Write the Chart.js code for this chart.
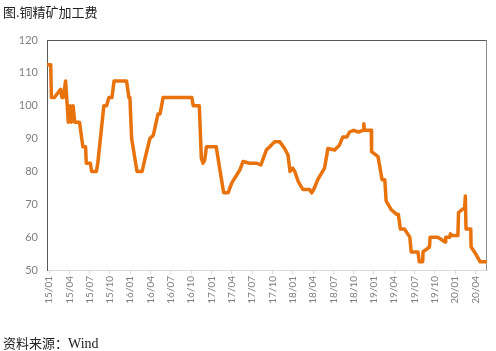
<!DOCTYPE html>
<html>
<head>
<meta charset="utf-8">
<script src="https://cdn.jsdelivr.net/npm/chart.js@4.4.1/dist/chart.umd.min.js"></script>
<style>
  body { margin: 0; background: #fff; }
  #wrap { position: relative; width: 496px; height: 351px; }
  #chart { position: absolute; left: 0; top: 0; }
  .txt { position: absolute; left: 3px; font-family: "Noto Sans CJK SC", sans-serif; font-size: 13px; color: #222; white-space: nowrap; }
  #title { top: 2px; }
  #source { top: 333px; }
  #source span { font-family: "Liberation Serif", serif; font-size: 14px; }
</style>
</head>
<body>
<div id="wrap">
  <canvas id="chart" width="496" height="351"></canvas>
  <div class="txt" id="title">图.铜精矿加工费</div>
  <div class="txt" id="source">资料来源：<span>Wind</span></div>
</div>
<script>
// x = months since 2015-01, y = TC (美元/吨)
const months = [-0.25, 0.25, 0.35, 0.8, 1.7, 1.9, 2.1, 2.45, 2.85, 3.1, 3.3, 3.55, 3.8, 4.5, 5.0, 5.4, 5.5, 6.1, 6.3, 7.0,
  7.2, 8.1, 8.5, 8.85, 9.3, 9.6, 11.45, 11.8, 11.95, 12.2, 13.0, 13.75, 14.3, 14.9, 15.4, 16.1, 16.4, 16.85, 21.1, 21.3,
  22.2, 22.5, 22.75, 23.0, 23.25, 24.7, 25.2, 25.8, 26.45, 27.0, 28.2, 28.65, 29.1, 29.6, 30.6, 31.3, 32.1, 32.6, 33.3, 34.1,
  34.8, 35.3, 35.6, 36.0, 36.3, 36.8, 37.5, 38.5, 38.8, 39.1, 39.7, 40.7, 41.2, 42.2, 42.9, 43.4, 44.0, 44.4, 45.0, 45.7,
  46.4, 46.5, 46.6, 47.6, 47.65, 48.6, 49.2, 49.6, 49.8, 50.5, 51.3, 51.6, 51.9, 52.5, 53.3, 53.5, 54.5, 54.7, 55.2, 55.25,
  56.2, 56.3, 57.4, 57.8, 58.5, 58.6, 59.2, 59.3, 59.5, 60.4, 60.5, 61.4, 61.5, 61.6, 62.3, 62.35, 63.0, 63.7, 64.7];
const tcValues = [112.5, 112.5, 102.5, 102.5, 105, 102.5, 102.5, 107.5, 95, 100, 95, 100, 95, 95, 87.5, 87.5, 82.5, 82.5, 80, 80,
  82.5, 100, 100, 102.5, 102.5, 107.5, 107.5, 102.5, 102.5, 90, 80, 80, 85, 90, 91, 97.5, 97.5, 102.5, 102.5, 100,
  100, 84, 82.5, 83.5, 87.5, 87.5, 81, 73.5, 73.5, 76.5, 80.5, 83, 82.8, 82.5, 82.5, 82, 86.5, 87.5, 89, 89,
  87, 85, 80, 81, 80, 77, 74.5, 74.5, 73.5, 74.5, 77.5, 81, 87, 86.5, 88, 90.5, 90.5, 92, 92.5, 92,
  92.5, 94.5, 92.5, 92.5, 86, 84.5, 77.5, 77.5, 71, 68.5, 67, 67, 62.5, 62.5, 60, 55.5, 55.5, 52.5, 52.5, 55.5,
  57, 60, 60, 59.5, 58.5, 60, 60, 61, 60.5, 60.5, 67.5, 69, 72.5, 62.5, 62.5, 57, 55, 52.5, 52.5];
const tickLabels = ['15/01', '15/04', '15/07', '15/10', '16/01', '16/04', '16/07', '16/10', '17/01', '17/04', '17/07',
  '17/10', '18/01', '18/04', '18/07', '18/10', '19/01', '19/04', '19/07', '19/10', '20/01', '20/04'];
const yTicks = [50, 60, 70, 80, 90, 100, 110, 120];

const points = months.map((m, i) => ({ x: m, y: tcValues[i] }));

// cadre du graphique (haut / droite)
const boxPlugin = {
  id: 'box',
  beforeDatasetsDraw(chart) {
    const a = chart.chartArea, c = chart.ctx;
    c.save();
    c.lineWidth = 1;
    c.strokeStyle = '#595959';
    c.beginPath();
    c.moveTo(a.left, a.top + 0.5);
    c.lineTo(a.right, a.top + 0.5);
    c.stroke();
    c.strokeStyle = '#8c8c8c';
    c.beginPath();
    c.moveTo(a.right - 0.5, a.top);
    c.lineTo(a.right - 0.5, a.bottom);
    c.stroke();
    c.restore();
  }
};

new Chart(document.getElementById('chart'), {
  type: 'line',
  data: {
    datasets: [{
      data: points,
      borderColor: '#E8720C',
      borderWidth: 3.5,
      borderJoinStyle: 'round',
      borderCapStyle: 'round',
      pointRadius: 0,
      tension: 0,
      fill: false
    }]
  },
  options: {
    responsive: false,
    animation: false,
    layout: { padding: { top: 40, right: 9, left: 0, bottom: 0 } },
    plugins: { legend: { display: false }, tooltip: { enabled: false } },
    scales: {
      x: {
        type: 'linear',
        min: -0.3,
        max: 64.7,
        afterBuildTicks: axis => { axis.ticks = tickLabels.map((t, i) => ({ value: i * 3 })); },
        afterFit: axis => { axis.height = 81; },
        grid: { drawOnChartArea: false, drawTicks: true, tickLength: 4, color: '#d9d9d9' },
        border: { color: '#d9d9d9' },
        ticks: {
          autoSkip: false,
          minRotation: 90,
          maxRotation: 90,
          padding: 2,
          color: '#7f7f7f',
          font: { family: 'Lato', size: 10 },
          callback: v => tickLabels[Math.round(v / 3)]
        }
      },
      y: {
        min: 50,
        max: 120,
        afterBuildTicks: axis => { axis.ticks = yTicks.map(v => ({ value: v })); },
        afterFit: axis => { axis.width = 47; },
        grid: { display: false, drawTicks: false },
        border: { display: true, color: '#595959', width: 1 },
        ticks: {
          padding: 9,
          color: '#7f7f7f',
          font: { family: 'Lato', size: 11 }
        }
      }
    }
  },
  plugins: [boxPlugin]
});
</script>
</body>
</html>
